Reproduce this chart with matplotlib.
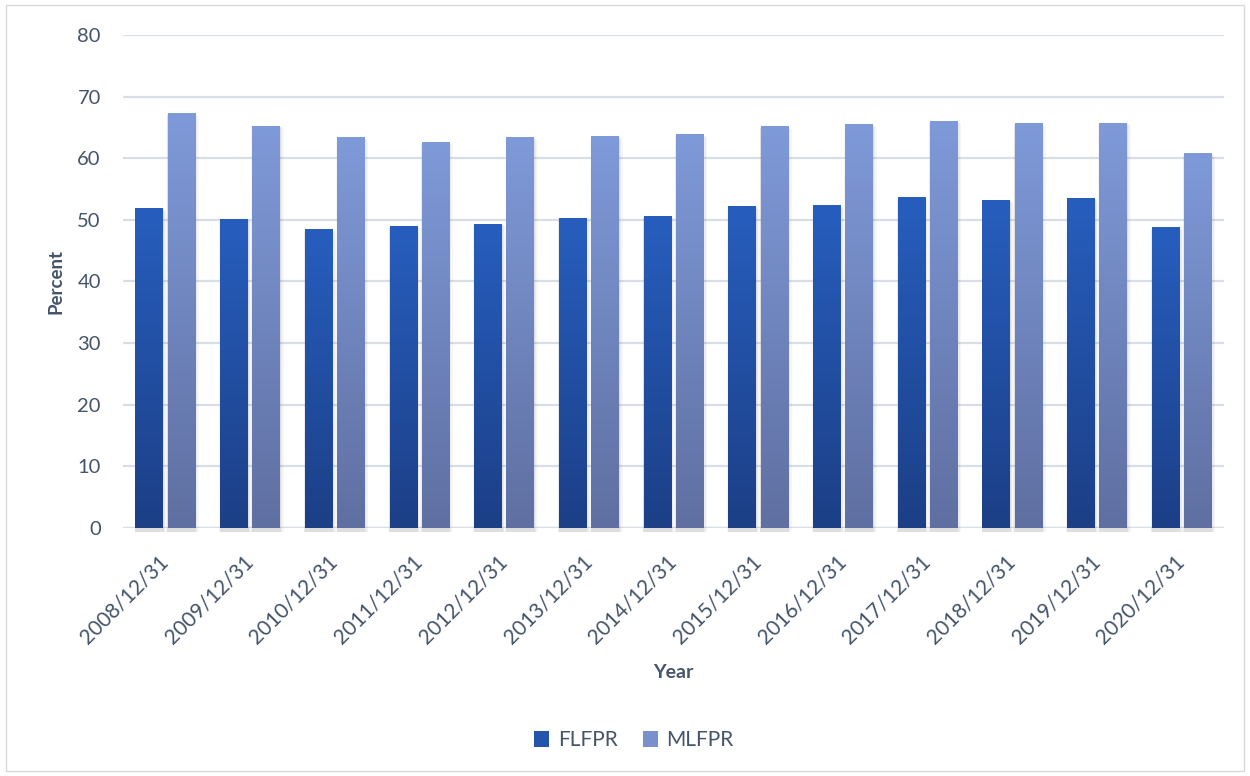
#!/usr/bin/env python3

import matplotlib.pyplot as plt
import numpy as np
from matplotlib.colors import LinearSegmentedColormap
from matplotlib.patches import Rectangle, Patch

years = ["2008/12/31", "2009/12/31", "2010/12/31", "2011/12/31", "2012/12/31",
         "2013/12/31", "2014/12/31", "2015/12/31", "2016/12/31", "2017/12/31",
         "2018/12/31", "2019/12/31", "2020/12/31"]
flfpr = [51.8, 50.1, 48.4, 49.0, 49.3, 50.3, 50.6, 52.1, 52.3, 53.6, 53.1, 53.4, 48.7]
mlfpr = [67.2, 65.2, 63.3, 62.6, 63.3, 63.5, 63.8, 65.1, 65.4, 66.0, 65.6, 65.7, 60.7]

TEXT = "#44546a"
GRID = "#d9dde6"

plt.rcParams['font.family'] = ['Lato', 'DejaVu Sans']

fl_cmap = LinearSegmentedColormap.from_list("fl", ["#1c3f86", "#275ebe"])
ml_cmap = LinearSegmentedColormap.from_list("ml", ["#5f6fa1", "#7f9ad9"])

fig = plt.figure(figsize=(12.5, 7.76), dpi=100)
ax = fig.add_axes([0.0984, 0.3196, 0.8808, 0.6353])

x = np.arange(len(years))
width = 0.325
offset = 0.19
grad = np.linspace(0, 1, 256).reshape(-1, 1)


def gradient_bars(xs, heights, cmap):
    for xc, h in zip(xs, heights):
        x0, x1 = xc - width / 2, xc + width / 2
        # soft shadow around the bar
        for grow, a in [(0.035, 0.05), (0.02, 0.07), (0.008, 0.09)]:
            ax.add_patch(Rectangle((x0 - grow * 0.3, -0.6), width + grow * 1.6, h + 0.6 - grow * 10,
                                   facecolor="#606060", edgecolor="none", alpha=a,
                                   zorder=2, clip_on=False))
        ax.imshow(grad, cmap=cmap, origin="lower", aspect="auto",
                  extent=(x0, x1, 0, h), zorder=3, interpolation="bilinear")


gradient_bars(x - offset, flfpr, fl_cmap)
gradient_bars(x + offset, mlfpr, ml_cmap)

ax.set_xlim(-0.5, len(years) - 0.5)
ax.set_ylim(0, 80)
ax.set_yticks(range(0, 81, 10))
ax.yaxis.grid(True, color=GRID, linewidth=1.6)
ax.set_axisbelow(True)
for s in ax.spines.values():
    s.set_visible(False)
ax.axhline(0, color=GRID, linewidth=1.6, zorder=1)

ax.set_xticks(x)
ax.set_xticklabels(years, rotation=45, ha="right", va="center", rotation_mode="anchor")
ax.tick_params(axis="x", length=0, pad=22, labelsize=15, labelcolor=TEXT)
ax.tick_params(axis="y", length=0, pad=16, labelsize=14.5, labelcolor=TEXT)

ax.set_xlabel("Year", fontsize=14, fontweight="bold", color=TEXT, labelpad=12)
ax.set_ylabel("Percent", fontsize=13.5, fontweight="bold", color=TEXT, labelpad=9)

handles = [Patch(facecolor="#2454ab", label="FLFPR"), Patch(facecolor="#7890cc", label="MLFPR")]
fig.legend(handles=handles, loc="center", bbox_to_anchor=(0.507, 0.046), ncol=2,
           frameon=False, fontsize=15, labelcolor=TEXT, handlelength=0.75,
           handleheight=0.75, handletextpad=0.4, columnspacing=1.2)

fig.add_artist(Rectangle((0.005, 0.006), 0.99, 0.987, transform=fig.transFigure,
                         facecolor="none", edgecolor="#d9d9d9", linewidth=1))

plt.savefig("out.png", dpi=100)
